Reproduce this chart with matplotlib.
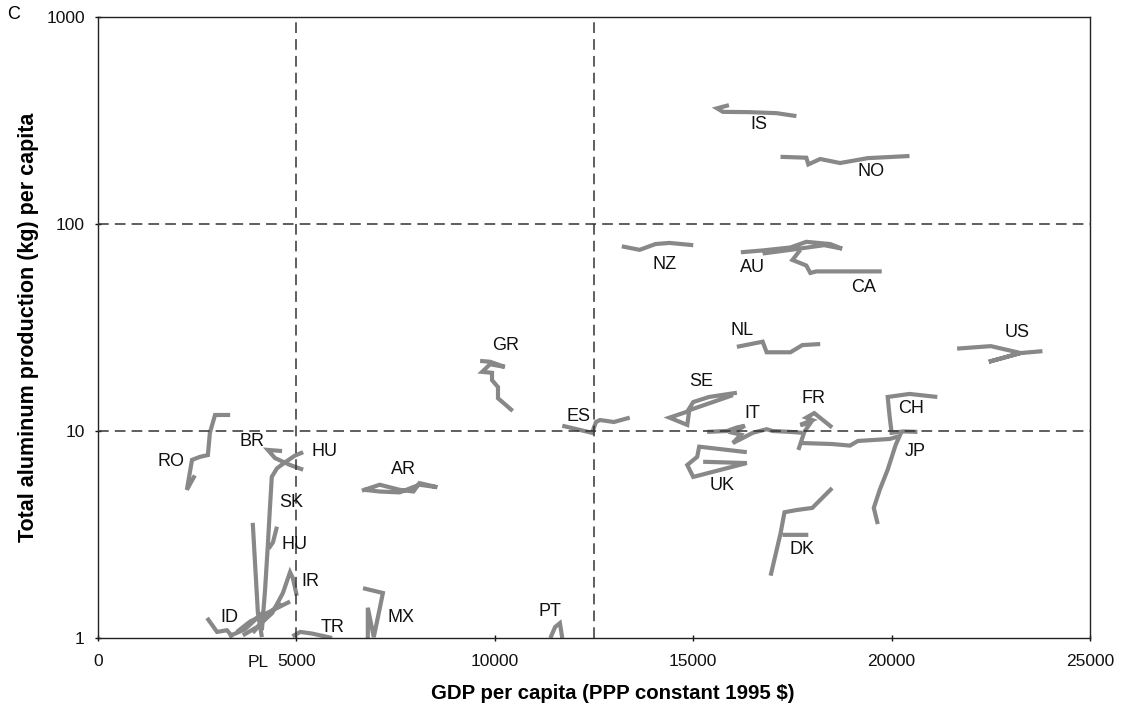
import numpy as np
import matplotlib
matplotlib.use('Agg')
import matplotlib.pyplot as plt
from matplotlib.ticker import NullLocator, FixedLocator, FixedFormatter
import matplotlib.transforms as mtransforms

plt.rcParams['font.family'] = ['Liberation Sans', 'DejaVu Sans']

nan = np.nan

# country trajectories: GDP per capita (x) vs aluminium production kg/capita (y)
IS_x = [15900, 15600, 15750, 16400, 17100, 17600]
IS_y = [375, 362, 348, 347, 343, 332]
NO_x = [17200, 17850, 17900, 18200, 18700, 19400, 20450]
NO_y = [211, 209, 194, 206, 197, 208, 213]
NZ_x = [13200, 13650, 14050, 14400, 15000]
NZ_y = [78, 75, 80, 81, 79]
AU_x = [16200, 16750, 17450, 17850, 18450, 18750, 18300, 17450, 16750]
AU_y = [73, 74.5, 77, 82, 80, 76, 79, 75, 72]
CA_x = [17700, 17500, 17850, 17950, 18100, 19750]
CA_y = [75, 67, 63, 58, 59, 59]
NL_x = [16100, 16750, 16850, 17450, 17750, 18200]
NL_y = [25.5, 27, 24, 24, 26, 26.3]
US_x = [21650, 22500, 23250, 22450, 23250, 23800]
US_y = [25, 25.7, 23.8, 21.6, 23.8, 24.3]
GR_x = [9630, 9880, 10250, 9880, 9680, 9930, 9930, 10080, 10080, 10450]
GR_y = [21.8, 21.6, 20.4, 21, 19.3, 19.1, 17.6, 16.3, 14.4, 12.5]
ES_x = [11700, 12450, 12550, 12650, 13000, 13400]
ES_y = [10.6, 9.8, 11.05, 11.3, 11.05, 11.6]
SE_x = [16100, 15400, 15000, 14850, 14400, 14850, 14900, 15400, 16000]
SE_y = [15.3, 14.6, 13.8, 12.4, 11.6, 10.7, 12.6, 13.6, 14.9]
IT_x = [15350, 15850, 16100, 16300, 16000, 16200, 16000, 16250, 16500, 16850, 17000, 17450, 17750]
IT_y = [9.9, 10, 10.4, 10.6, 9.8, 9.6, 8.75, 9.25, 9.8, 10.2, 10, 9.9, 9.8]
FR_x = [18500, 18050, 17850, 18000, 17700, 17950, 17800, 17650]
FR_y = [10.4, 12.2, 11.6, 11.3, 10.7, 10.9, 9.9, 8.1]
CH_x = [21150, 20450, 19900, 19950, 20000, 20300, 20650]
CH_y = [14.6, 15.1, 14.6, 11.7, 9.8, 9.95, 9.9]
JP_x = [17700, 18500, 18950, 19150, 19950, 20200, 20100, 19900, 19700, 19550, 19650]
JP_y = [8.75, 8.65, 8.5, 8.95, 9.15, 9.45, 8.55, 6.5, 5.2, 4.25, 3.55]
UK_x = [16350, 15150, 15100, 14850, 15000, 16350, 15250]
UK_y = [7.9, 8.4, 7.5, 6.85, 6.0, 7.0, 7.1]
DK_x = [18500, 18000, 17600, 17300, 17200, 16950, nan, 17250, 17900]
DK_y = [5.3, 4.25, 4.15, 4.05, 3.2, 2.0, nan, 3.15, 3.15]
AR_x = [6650, 7100, 7600, 7950, 8100, 8550, 8100, 7600, 7100, 6700]
AR_y = [5.15, 5.5, 5.2, 5.1, 5.6, 5.35, 5.5, 5.05, 5.1, 5.2]
RO_x = [3330, 2950, 2820, 2770, 2570, 2370, 2240, 2440]
RO_y = [11.95, 11.95, 9.8, 7.65, 7.5, 7.25, 5.2, 6.1]
BR_x = [4640, 4280, 4460, 4840, 5170]
BR_y = [8.0, 8.1, 7.4, 6.85, 6.5]
HU_x = [5170, 4960, 4710, 4510, 4380, 4330, 4280, 4210, 4130]
HU_y = [7.9, 7.6, 7.05, 6.6, 6.0, 4.15, 2.8, 1.7, 1.09]
SK_x = [4510, 4410, 4300]
SK_y = [3.45, 2.9, 2.7]
SK2_x = [3900, 4030, 4130]
SK2_y = [3.6, 1.32, 1.01]
IR_x = [5010, 4910, 4840, 4660, 4390, 4010, 3650]
IR_y = [1.6, 1.95, 2.08, 1.65, 1.32, 1.13, 1.03]
PL_x = [4840, 3830, 3500, nan, 4590, 3900, nan, 4200, 3700, 3300]
PL_y = [1.5, 1.2, 1.07, nan, 1.49, 1.06, nan, 1.35, 1.1, 1.02]
ID_x = [2750, 3000, 3250, 3400]
ID_y = [1.25, 1.07, 1.09, 1.01]
TR_x = [4900, 5100, 5400, 5900]
TR_y = [1.02, 1.07, 1.05, 1.0]
MX_x = [6680, 7180, 7120, 6950, 6800, 6800]
MX_y = [1.74, 1.65, 1.45, 1.01, 1.4, 1.0]
PT_x = [11400, 11520, 11640, 11700]
PT_y = [1.0, 1.13, 1.18, 1.0]

series = [(IS_x, IS_y), (NO_x, NO_y), (NZ_x, NZ_y), (AU_x, AU_y), (CA_x, CA_y),
          (NL_x, NL_y), (US_x, US_y), (GR_x, GR_y), (ES_x, ES_y), (SE_x, SE_y),
          (IT_x, IT_y), (FR_x, FR_y), (CH_x, CH_y), (JP_x, JP_y), (UK_x, UK_y),
          (DK_x, DK_y), (AR_x, AR_y), (RO_x, RO_y), (BR_x, BR_y), (HU_x, HU_y),
          (SK_x, SK_y), (SK2_x, SK2_y), (IR_x, IR_y), (PL_x, PL_y), (ID_x, ID_y),
          (TR_x, TR_y), (MX_x, MX_y), (PT_x, PT_y)]

label_names = ['IS', 'NO', 'NZ', 'AU', 'CA', 'NL', 'US', 'GR', 'SE', 'CH', 'FR', 'IT',
               'ES', 'JP', 'UK', 'DK', 'RO', 'BR', 'HU', 'AR', 'SK', 'HU', 'IR', 'ID',
               'TR', 'MX', 'PT']
label_x = [16650, 19480, 14290, 16500, 19300, 16230, 23160, 10260, 15200, 20490, 18020,
           16480, 12100, 20590, 15720, 17740, 1840, 3880, 5720, 7710, 4860, 4940, 5340,
           3300, 5900, 7640, 11390]
label_y = [304, 180, 64, 61.3, 49.6, 30.7, 29.8, 26, 17.4, 12.9, 14.3, 12.2, 11.8, 8.0,
           5.43, 2.69, 7.16, 8.85, 8.0, 6.48, 4.49, 2.84, 1.88, 1.26, 1.13, 1.26, 1.35]

fig = plt.figure(figsize=(11.21, 7.07), dpi=100)
ax = fig.add_axes([0.0874, 0.0976, 0.885, 0.8784])
ax.set_yscale('log')
ax.set_xlim(0, 25000)
ax.set_ylim(1, 1000)

for xs, ys in series:
    ax.plot(xs, ys, color='#888888', lw=3.0, solid_capstyle='butt', solid_joinstyle='miter')

for v in [5000, 12500]:
    ax.axvline(v, color='#333333', lw=1.1, ls=(0, (7, 4)), zorder=3)
for v in [10, 100]:
    ax.axhline(v, color='#333333', lw=1.1, ls=(0, (7, 4)), zorder=3)

for name, lx, ly in zip(label_names, label_x, label_y):
    ax.text(lx, ly, name, fontsize=13, ha='center', va='center', color='#111111')

trans = mtransforms.blended_transform_factory(ax.transData, ax.transAxes)
ax.text(4030, -0.028, 'PL', transform=trans, fontsize=12.5, ha='center', va='top', color='#111111')

ax.xaxis.set_major_locator(FixedLocator([0, 5000, 10000, 15000, 20000, 25000]))
ax.yaxis.set_major_locator(FixedLocator([1, 10, 100, 1000]))
ax.yaxis.set_major_formatter(FixedFormatter(['1', '10', '100', '1000']))
ax.yaxis.set_minor_locator(NullLocator())
ax.tick_params(axis='both', direction='inout', length=5, width=1, labelsize=12.5, pad=7, colors='#111111')
ax.tick_params(axis='x', pad=9)
for s in ax.spines.values():
    s.set_linewidth(1.0)
    s.set_color('#222222')

ax.set_xlabel('GDP per capita (PPP constant 1995 $)', fontsize=14.7, fontweight='bold')
ax.xaxis.set_label_coords(0.519, -0.074)
ax.set_ylabel('Total aluminum production (kg) per capita', fontsize=15.5, fontweight='bold', labelpad=5)
fig.text(0.0125, 0.98, 'C', fontsize=13, ha='center', va='center')

plt.savefig('out.png', dpi=100)
